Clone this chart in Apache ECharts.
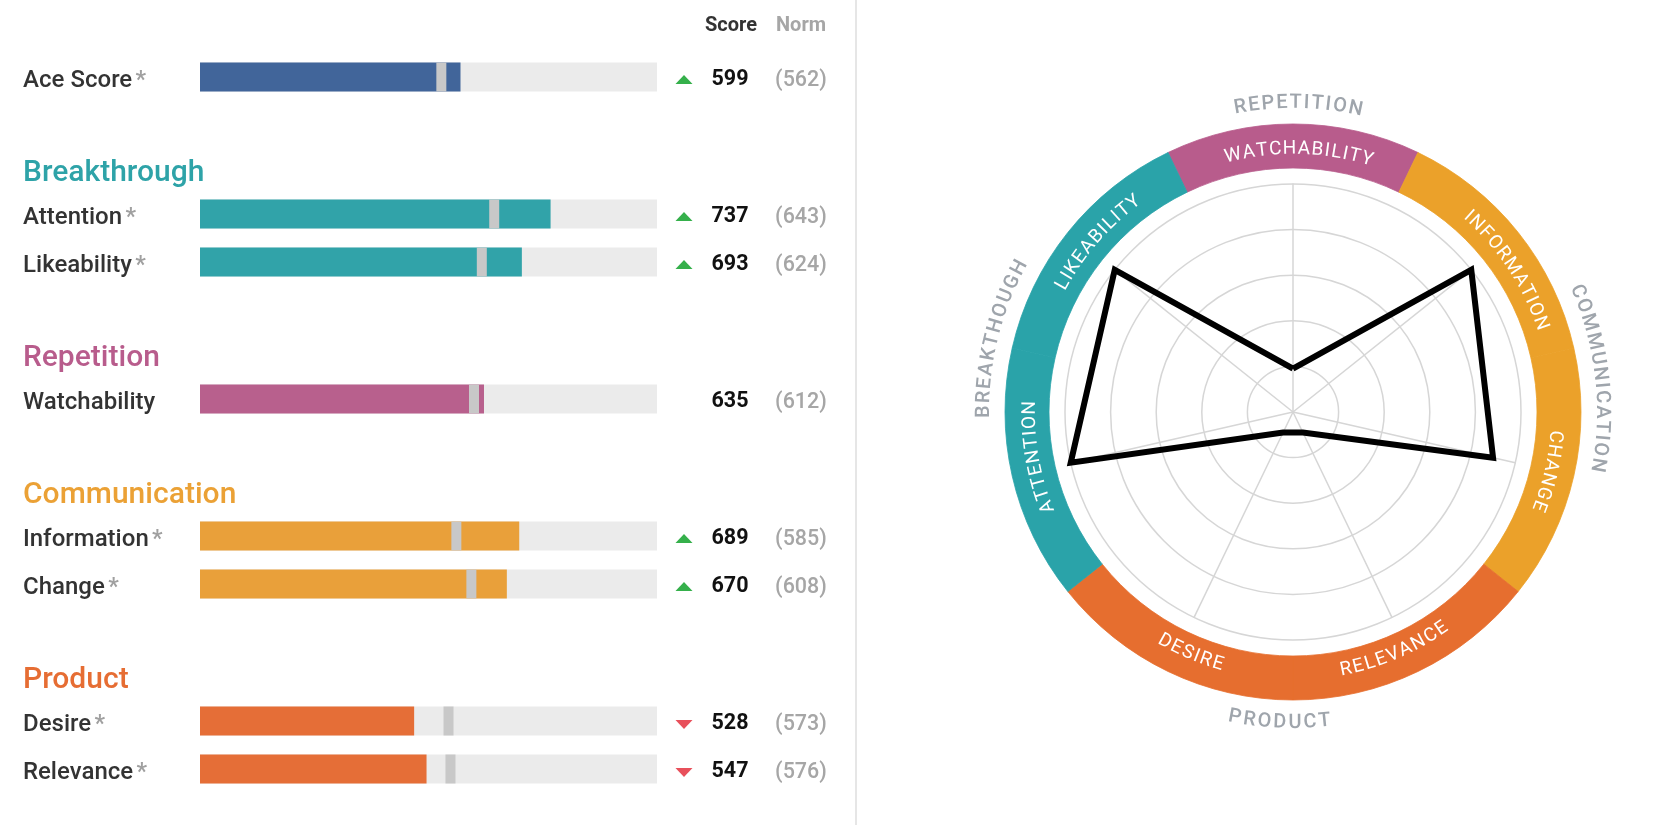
<!DOCTYPE html>
<html>
<head>
<meta charset="utf-8">
<script src="https://cdn.jsdelivr.net/npm/echarts@6/dist/echarts.min.js"></script>
<style>
html,body{margin:0;padding:0;background:#ffffff;}
#chart{width:1665px;height:825px;}
</style>
</head>
<body>
<div id="chart"></div>
<script>
// ---------------- DATA ----------------
const metricNames   = ['Ace Score','Attention','Likeability','Watchability','Information','Change','Desire','Relevance'];
const metricGroups  = ['Ace','Breakthrough','Breakthrough','Repetition','Communication','Communication','Product','Product'];
const scores        = [599, 737, 693, 635, 689, 670, 528, 547];
const norms         = [562, 643, 624, 612, 585, 608, 573, 576];
const significant   = [true, true, true, false, true, true, true, true];
const groupNames    = ['Breakthrough','Repetition','Communication','Product'];
const barScale      = [200, 900];          // min / max of the bar scale
const headerLabels  = ['Score','Norm'];

// radar (indicators listed counter-clockwise from the top)
const radarMetrics  = ['Watchability','Likeability','Attention','Desire','Relevance','Change','Information'];
const radarValues   = [19, 100, 100, 10, 10, 90, 100];
const radarMax      = 100;
const radarGroupLabels = ['BREAKTHOUGH','REPETITION','COMMUNICATION','PRODUCT'];

// ---------------- STYLE / LAYOUT ----------------
const FONT = 'Roboto, "Noto Sans", sans-serif';
const FONT_MED = '"Roboto Medium", Roboto, "Noto Sans", sans-serif';
const barColors  = {Ace:'#41659a', Breakthrough:'#31a3a9', Repetition:'#b8608d', Communication:'#e9a03a', Product:'#e56e37'};
const headColors = {Breakthrough:'#2ea3a8', Repetition:'#b85c8c', Communication:'#eba135', Product:'#e66d33'};
const bandColors = {Breakthrough:'#2aa3a9', Repetition:'#b85c8c', Communication:'#eba12a', Product:'#e66e2f'};
const metricGroupOf = {};
metricNames.forEach((m,i)=>{ metricGroupOf[m] = metricGroups[i]; });

const ROW0 = 77, ROW_STEP = 48, GROUP_STEP = 137, HEAD_OFFSET = 43.5, BAR_H = 29;
const TXT_DY = 3, HEAD_DY = 2;
const rowY = []; const headY = {};
let yy = ROW0;
metricNames.forEach((m,i)=>{
  if (i > 0) {
    const newGroup = metricGroups[i] !== metricGroups[i-1];
    yy += newGroup ? GROUP_STEP : ROW_STEP;
    if (newGroup) headY[metricGroups[i]] = yy - HEAD_OFFSET;
  }
  rowY.push(yy);
});

const CX = 1293, CY = 412, R_RADAR = 228, BAND_IN = 244, BAND_OUT = 288;
const BAND_TEXT_R = 263, OUTER_TEXT_R = 310;
const bandLabelAngle  = {Watchability:88.7, Likeability:139, Attention:190, Desire:247, Relevance:293, Change:-13, Information:33.5};
const groupLabelAngle = {BREAKTHOUGH:166, REPETITION:89, COMMUNICATION:6.5, PRODUCT:267.5};

// ---------------- curved text helper ----------------
const mctx = document.createElement('canvas').getContext('2d');
function arcText(text, angleDeg, r, size, spacing, color, weight, family) {
  const font = weight + ' ' + size + 'px ' + family;
  mctx.font = font;
  const chars = text.split('');
  const widths = chars.map(c => mctx.measureText(c).width);
  const L = widths.reduce((a,b)=>a+b,0) + spacing*(chars.length-1);
  const th = angleDeg*Math.PI/180;
  const bottom = Math.sin(th) < -0.3;
  const els = [];
  let cum = 0;
  chars.forEach((c,k)=>{
    const off = (cum + widths[k]/2 - L/2)/r;
    const a = bottom ? th + off : th - off;
    const x = CX + r*Math.cos(a), y = CY - r*Math.sin(a);
    const rot = bottom ? a + Math.PI/2 : a - Math.PI/2;
    els.push({type:'text', x:x, y:y, rotation:rot, silent:true, z:10,
      style:{text:c, fill:color, font:font, textAlign:'center', textVerticalAlign:'middle', align:'center', verticalAlign:'middle'}});
    cum += widths[k] + spacing;
  });
  return els;
}

const graphics = [];
graphics.push({type:'line', silent:true, shape:{x1:856, y1:0, x2:856, y2:825}, style:{stroke:'#dedede', lineWidth:1.5}});
radarMetrics.forEach(m=>{
  graphics.push(...arcText(m.toUpperCase(), bandLabelAngle[m], BAND_TEXT_R, 19, 1.4, '#ffffff', 400, FONT));
});
radarGroupLabels.forEach(g=>{
  graphics.push(...arcText(g, groupLabelAngle[g], OUTER_TEXT_R, 20, 2, '#9fa5ac', 400, FONT_MED));
});

// band slices: clockwise starting from the top indicator
const bandOrder = [radarMetrics[0]].concat(radarMetrics.slice(1).reverse());
const sliceAngle = 360 / radarMetrics.length;

// ---------------- chart ----------------
const chart = echarts.init(document.getElementById('chart'), null, {renderer:'canvas'});

const rowData = metricNames.map((m,i)=>[scores[i], rowY[i], norms[i], i]);
const headData = groupNames.map((g,i)=>[barScale[0], headY[g], i]);

const option = {
  animation:false,
  backgroundColor:'#ffffff',
  grid:{left:200, top:0, width:457, height:825},
  xAxis:{type:'value', min:barScale[0], max:barScale[1], show:false},
  yAxis:{type:'value', min:0, max:825, inverse:true, show:false},
  radar:{
    center:[CX, CY], radius:R_RADAR, startAngle:90, shape:'circle', splitNumber:5,
    indicator: radarMetrics.map(m=>({name:m, min:0, max:radarMax})),
    axisName:{show:false},
    axisLine:{lineStyle:{color:'#d6d6d6', width:1.5}},
    splitLine:{lineStyle:{color:'#d6d6d6', width:1.5}},
    splitArea:{show:false},
    axisTick:{show:false}, axisLabel:{show:false}
  },
  graphic:{elements:graphics},
  series:[
    {
      type:'custom', name:'rows', clip:false, silent:true,
      data:rowData,
      renderItem:function(params, api){
        const i = api.value(3), y = api.value(1), s = api.value(0), n = api.value(2);
        const p0 = api.coord([barScale[0], y]);
        const p1 = api.coord([barScale[1], y]);
        const ps = api.coord([s, y]);
        const pn = api.coord([n, y]);
        const cy = p0[1];
        const g = metricGroups[i];
        const children = [
          {type:'rect', shape:{x:p0[0], y:cy-BAR_H/2, width:p1[0]-p0[0], height:BAR_H}, style:{fill:'#ebebeb'}},
          {type:'rect', shape:{x:p0[0], y:cy-BAR_H/2, width:ps[0]-p0[0], height:BAR_H}, style:{fill:barColors[g]}},
          {type:'rect', shape:{x:pn[0], y:cy-BAR_H/2, width:10, height:BAR_H}, style:{fill:'#c8c8c8'}},
          {type:'text', x:23, y:cy+TXT_DY, style:{
            text: significant[i] ? '{l|'+metricNames[i]+'} {s|*}' : '{l|'+metricNames[i]+'}',
            rich:{l:{fontSize:24, fontWeight:500, fontFamily:FONT_MED, fill:'#333333', color:'#333333'},
                  s:{fontSize:24, fontWeight:500, fontFamily:FONT_MED, fill:'#a0a0a0', color:'#a0a0a0'}},
            textAlign:'left', textVerticalAlign:'middle', align:'left', verticalAlign:'middle'}},
          {type:'text', x:730, y:cy+TXT_DY, style:{text:String(s), font:'bold 21.5px '+FONT, fill:'#111111',
            textAlign:'center', textVerticalAlign:'middle', align:'center', verticalAlign:'middle'}},
          {type:'text', x:801, y:cy+TXT_DY, style:{text:'('+n+')', font:'500 21.5px '+FONT_MED, fill:'#a6a6a6',
            textAlign:'center', textVerticalAlign:'middle', align:'center', verticalAlign:'middle'}}
        ];
        if (significant[i]) {
          const up = s > n;
          const pts = up ? [[675.5, cy+7],[692.5, cy+7],[684, cy-2]] : [[675.5, cy-1],[692.5, cy-1],[684, cy+8]];
          children.push({type:'polygon', shape:{points:pts}, style:{fill: up ? '#35b04b' : '#e8505b'}});
        }
        return {type:'group', children:children};
      }
    },
    {
      type:'custom', name:'headings', clip:false, silent:true,
      data:headData,
      renderItem:function(params, api){
        const i = api.value(2);
        const p = api.coord([api.value(0), api.value(1)]);
        return {type:'text', x:23, y:p[1]+HEAD_DY, style:{text:groupNames[i], font:'500 30px '+FONT_MED, fill:headColors[groupNames[i]],
          textAlign:'left', textVerticalAlign:'middle', align:'left', verticalAlign:'middle'}};
      }
    },
    {
      type:'custom', name:'header', clip:false, silent:true,
      data:headerLabels.map((h,i)=>[barScale[0], 24, i]),
      renderItem:function(params, api){
        const i = api.value(2);
        const p = api.coord([api.value(0), api.value(1)]);
        return {type:'text', x: i===0 ? 731 : 801, y:p[1]+HEAD_DY, style:{text:headerLabels[i], font:'bold 20px '+FONT,
          fill: i===0 ? '#333333' : '#a6a6a6',
          textAlign:'center', textVerticalAlign:'middle', align:'center', verticalAlign:'middle'}};
      }
    },
    {
      type:'pie', silent:true, center:[CX, CY], radius:[BAND_IN, BAND_OUT],
      startAngle: 90 + sliceAngle/2, clockwise:true,
      label:{show:false}, labelLine:{show:false},
      emphasis:{disabled:true},
      data: bandOrder.map(m=>{
        const c = bandColors[metricGroupOf[m]];
        return {name:m, value:1, itemStyle:{color:c, borderColor:c, borderWidth:0.8}};
      })
    },
    {
      type:'radar', silent:true, symbol:'none',
      lineStyle:{color:'#000000', width:6, join:'miter'},
      data:[{name:'Score', value:radarValues, symbol:'none', lineStyle:{color:'#000000', width:6, join:'miter'}}]
    }
  ]
};
chart.setOption(option);
</script>
</body>
</html>
